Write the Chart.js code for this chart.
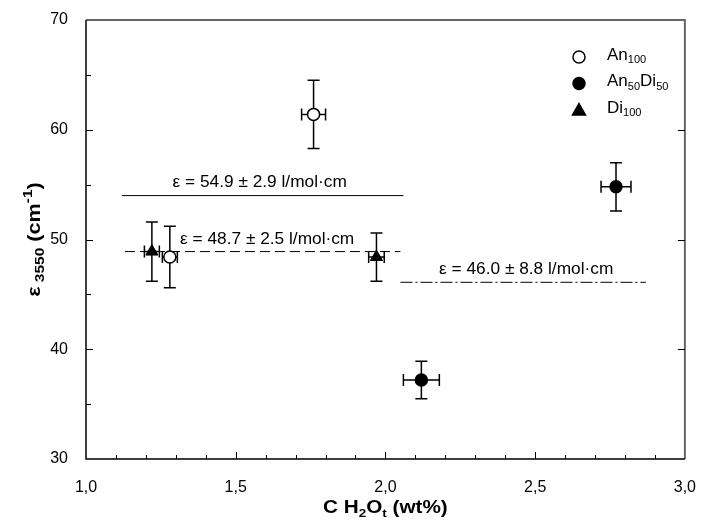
<!DOCTYPE html>
<html>
<head>
<meta charset="utf-8">
<script src="https://cdn.jsdelivr.net/npm/chart.js@4.4.1/dist/chart.umd.min.js"></script>
<style>
html,body{margin:0;padding:0;background:#fff;}
canvas{display:block;}
</style>
</head>
<body>
<canvas id="c" width="707" height="527"></canvas>
<script>
// ---- data ----
const an100X    = [1.76, 1.28];
const an100Y    = [61.4, 48.4];
const an100XErr = [0.04, 0.025];
const an100YErr = [3.1, 2.8];

const an50X    = [2.12, 2.77];
const an50Y    = [37.2, 54.8];
const an50XErr = [0.06, 0.05];
const an50YErr = [1.7, 2.2];

const di100X    = [1.22, 1.97];
const di100Y    = [48.9, 48.4];
const di100XErr = [0.025, 0.026];
const di100YErr = [2.7, 2.2];

// fitted epsilon lines: level on the plot, x span
const fitLevels = [54.0, 48.9, 46.1];
const fitStartX = [1.12, 1.13, 2.05];
const fitEndX   = [2.06, 2.05, 2.87];
const fitLabels = ['ε = 54.9 ± 2.9 l/mol·cm', 'ε = 48.7 ± 2.5 l/mol·cm', 'ε = 46.0 ± 8.8 l/mol·cm'];

const xTickValues = [1.0, 1.5, 2.0, 2.5, 3.0];
const xTickLabels = ['1,0', '1,5', '2,0', '2,5', '3,0'];
const yTickValues = [30, 40, 50, 60, 70];
const yTickLabels = ['30', '40', '50', '60', '70'];

const seriesNames = [
  [{t:'An'},{t:'100',sub:true}],
  [{t:'An'},{t:'50',sub:true},{t:'Di'},{t:'50',sub:true}],
  [{t:'Di'},{t:'100',sub:true}]
];

// ---- helpers ----
const FONT = '"Liberation Sans", Arial, Helvetica, sans-serif';
function pts(xs, ys){ return xs.map((x,i)=>({x:x, y:ys[i]})); }

function richWidth(ctx, parts, size, bold, subScale){
  let w = 0;
  parts.forEach(p=>{
    const s = (p.sub||p.sup) ? size*subScale : size;
    ctx.font = (bold?'bold ':'') + s + 'px ' + FONT;
    w += ctx.measureText(p.t).width;
  });
  return w;
}
// draws rich text with sub/superscripts; stretch scales along the baseline
function drawRich(ctx, parts, x, y, size, bold, align, stretch, subScale){
  subScale = subScale || 0.65;
  stretch = stretch || 1;
  ctx.save();
  ctx.translate(x, y);
  ctx.scale(stretch, 1);
  const w = richWidth(ctx, parts, size, bold, subScale);
  let cx = align === 'center' ? -w/2 : 0;
  ctx.textBaseline = 'middle';
  ctx.textAlign = 'left';
  parts.forEach(p=>{
    const s = (p.sub||p.sup) ? size*subScale : size;
    ctx.font = (bold?'bold ':'') + s + 'px ' + FONT;
    let dy = 0;
    if (p.sub) dy = size*0.32;
    if (p.sup) dy = -size*0.38;
    ctx.fillText(p.t, cx, dy);
    cx += ctx.measureText(p.t).width;
  });
  ctx.restore();
}

const errorSets = [
  {xs: an100X, ys: an100Y, ex: an100XErr, ey: an100YErr},
  {xs: an50X,  ys: an50Y,  ex: an50XErr,  ey: an50YErr},
  {xs: di100X, ys: di100Y, ex: di100XErr, ey: di100YErr}
];

const customDraw = {
  id: 'customDraw',
  beforeDatasetsDraw(chart){
    const ctx = chart.ctx, xs = chart.scales.x, ys = chart.scales.y;
    ctx.save();
    ctx.strokeStyle = '#000';
    ctx.lineWidth = 1.5;
    const cap = 6;
    errorSets.forEach(s=>{
      s.xs.forEach((xv,i)=>{
        const px = xs.getPixelForValue(xv), py = ys.getPixelForValue(s.ys[i]);
        const y1 = ys.getPixelForValue(s.ys[i] + s.ey[i]);
        const y2 = ys.getPixelForValue(s.ys[i] - s.ey[i]);
        const x1 = xs.getPixelForValue(xv - s.ex[i]);
        const x2 = xs.getPixelForValue(xv + s.ex[i]);
        ctx.beginPath();
        ctx.moveTo(px, y1); ctx.lineTo(px, y2);
        ctx.moveTo(px-cap, y1); ctx.lineTo(px+cap, y1);
        ctx.moveTo(px-cap, y2); ctx.lineTo(px+cap, y2);
        ctx.moveTo(x1, py); ctx.lineTo(x2, py);
        ctx.moveTo(x1, py-cap); ctx.lineTo(x1, py+cap);
        ctx.moveTo(x2, py-cap); ctx.lineTo(x2, py+cap);
        ctx.stroke();
      });
    });
    ctx.restore();
  },
  afterDraw(chart){
    const ctx = chart.ctx, xs = chart.scales.x, ys = chart.scales.y;
    const a = chart.chartArea;
    ctx.save();
    // frame: top/right grey, left/bottom black
    ctx.lineWidth = 2;
    ctx.strokeStyle = '#666';
    ctx.beginPath();
    ctx.moveTo(a.left, a.top); ctx.lineTo(a.right, a.top); ctx.lineTo(a.right, a.bottom);
    ctx.stroke();
    ctx.lineWidth = 1.5;
    ctx.strokeStyle = '#000';
    ctx.beginPath();
    ctx.moveTo(a.left, a.top); ctx.lineTo(a.left, a.bottom); ctx.lineTo(a.right, a.bottom);
    ctx.stroke();
    // inward ticks
    ctx.lineWidth = 1;
    ctx.beginPath();
    for (let k = 1; k < 20; k++){
      const v = 1 + k*0.1;
      const px = Math.round(xs.getPixelForValue(v)) + 0.5;
      const major = k % 5 === 0;
      ctx.moveTo(px, a.bottom); ctx.lineTo(px, a.bottom - (major ? 7 : 4));
    }
    for (let v = 35; v < 70; v += 5){
      const py = Math.round(ys.getPixelForValue(v)) + 0.5;
      const major = v % 10 === 0;
      ctx.moveTo(a.left, py); ctx.lineTo(a.left + (major ? 7 : 5), py);
      if (major){ ctx.moveTo(a.right, py); ctx.lineTo(a.right - 7, py); }
    }
    ctx.stroke();
    // fit labels
    ctx.fillStyle = '#000';
    const labelPos = [[1.58, 55.15], [1.605, 50.0], [2.47, 47.25]];
    fitLabels.forEach((t,i)=>{
      drawRich(ctx, [{t:t}], xs.getPixelForValue(labelPos[i][0]), ys.getPixelForValue(labelPos[i][1]),
               16, false, 'center', 1.08);
    });
    // legend
    const legY = [57, 83.5, 110];
    const legX = 579;
    seriesNames.forEach((parts,i)=>{
      ctx.lineWidth = 1.5;
      ctx.strokeStyle = '#000';
      ctx.beginPath();
      if (i === 2){
        ctx.moveTo(legX, legY[i]-6.5); ctx.lineTo(legX+6.5, legY[i]+5); ctx.lineTo(legX-6.5, legY[i]+5); ctx.closePath();
        ctx.fillStyle = '#000';
      } else {
        ctx.arc(legX, legY[i], 6, 0, Math.PI*2);
        ctx.fillStyle = i === 0 ? '#fff' : '#000';
      }
      ctx.fill(); ctx.stroke();
      ctx.fillStyle = '#000';
      drawRich(ctx, parts, 607, legY[i] - 2, 17, false, 'left', 1, 0.65);
    });
    // axis titles
    ctx.fillStyle = '#000';
    drawRich(ctx, [{t:'C H'},{t:'2',sub:true},{t:'O'},{t:'t',sub:true},{t:' (wt%)'}],
             (a.left + a.right)/2, 508, 18, true, 'center', 1.15, 0.65);
    ctx.save();
    ctx.translate(35, (a.top + a.bottom)/2);
    ctx.rotate(-Math.PI/2);
    drawRich(ctx, [{t:'ε'},{t:' 3550',sub:true},{t:' (cm'},{t:'-1',sup:true},{t:')'}],
             0, 0, 18, true, 'center', 1.2, 0.72);
    ctx.restore();
    ctx.restore();
  }
};

const lineDashes = [[], [10, 5], [12, 3, 2, 3]];
const fitDatasets = fitLevels.map((lv,i)=>({
  type: 'line',
  data: [{x: fitStartX[i], y: lv}, {x: fitEndX[i], y: lv}],
  borderColor: '#000',
  borderWidth: 1,
  borderDash: lineDashes[i],
  pointRadius: 0,
  fill: false,
  order: 5
}));

new Chart(document.getElementById('c'), {
  type: 'scatter',
  data: {
    datasets: [
      ...fitDatasets,
      {label: 'An100', data: pts(an100X, an100Y), pointStyle: 'circle', pointRadius: 6,
       backgroundColor: '#fff', borderColor: '#000', borderWidth: 1.5, order: 1},
      {label: 'An50Di50', data: pts(an50X, an50Y), pointStyle: 'circle', pointRadius: 6,
       backgroundColor: '#000', borderColor: '#000', borderWidth: 1.5, order: 1},
      {label: 'Di100', data: pts(di100X, di100Y), pointStyle: 'triangle', pointRadius: 7,
       backgroundColor: '#000', borderColor: '#000', borderWidth: 1, order: 1}
    ]
  },
  options: {
    responsive: false,
    animation: false,
    events: [],
    layout: {padding: {left: 0, right: 14, top: 20, bottom: 0}},
    plugins: {legend: {display: false}, tooltip: {enabled: false}},
    scales: {
      x: {
        type: 'linear', min: 1, max: 3,
        afterBuildTicks: s => { s.ticks = xTickValues.map(v=>({value:v})); },
        ticks: {
          callback: (v) => xTickLabels[xTickValues.findIndex(t=>Math.abs(t-v)<1e-9)],
          font: {size: 16, family: FONT}, color: '#000', padding: 11, maxRotation: 0, autoSkip: false
        },
        grid: {display: false},
        border: {display: false},
        afterFit: s => { s.height = 68; }
      },
      y: {
        type: 'linear', min: 30, max: 70,
        afterBuildTicks: s => { s.ticks = yTickValues.map(v=>({value:v})); },
        ticks: {
          callback: (v) => yTickLabels[yTickValues.indexOf(v)],
          font: {size: 16, family: FONT}, color: '#000', padding: 10, autoSkip: false
        },
        grid: {display: false},
        border: {display: false},
        afterFit: s => { s.width = 86; }
      }
    }
  },
  plugins: [customDraw]
});
</script>
</body>
</html>
